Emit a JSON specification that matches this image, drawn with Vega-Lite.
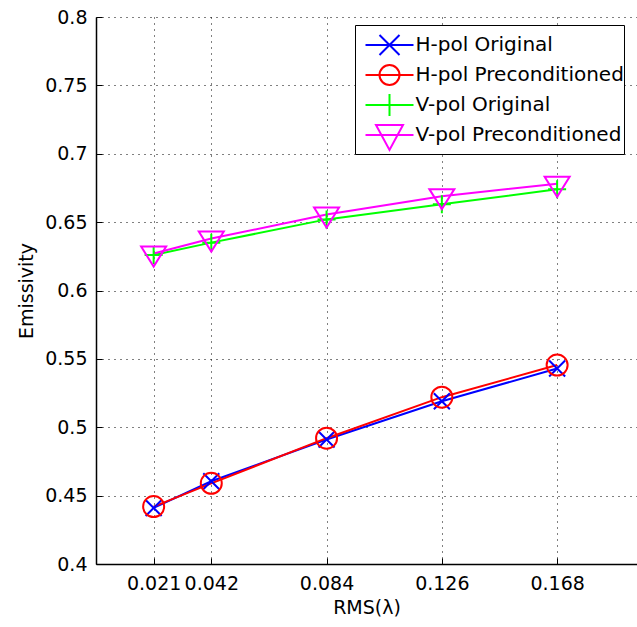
{
  "$schema": "https://vega.github.io/schema/vega-lite/v6.json",
  "autosize": {"type": "none"},
  "width": 541,
  "height": 547,
  "padding": {"left": 96, "top": 17, "right": 0, "bottom": 63},
  "background": "white",
  "data": {
    "values": [
      {"series": "H-pol Original", "rms": 0.021, "emissivity": 0.441},
      {"series": "H-pol Original", "rms": 0.042, "emissivity": 0.4605},
      {"series": "H-pol Original", "rms": 0.084, "emissivity": 0.491},
      {"series": "H-pol Original", "rms": 0.126, "emissivity": 0.519},
      {"series": "H-pol Original", "rms": 0.168, "emissivity": 0.543},
      {"series": "H-pol Preconditioned", "rms": 0.021, "emissivity": 0.442},
      {"series": "H-pol Preconditioned", "rms": 0.042, "emissivity": 0.459},
      {"series": "H-pol Preconditioned", "rms": 0.084, "emissivity": 0.492},
      {"series": "H-pol Preconditioned", "rms": 0.126, "emissivity": 0.522},
      {"series": "H-pol Preconditioned", "rms": 0.168, "emissivity": 0.5455},
      {"series": "V-pol Original", "rms": 0.021, "emissivity": 0.626},
      {"series": "V-pol Original", "rms": 0.042, "emissivity": 0.635},
      {"series": "V-pol Original", "rms": 0.084, "emissivity": 0.652},
      {"series": "V-pol Original", "rms": 0.126, "emissivity": 0.663},
      {"series": "V-pol Original", "rms": 0.168, "emissivity": 0.674},
      {"series": "V-pol Preconditioned", "rms": 0.021, "emissivity": 0.627},
      {"series": "V-pol Preconditioned", "rms": 0.042, "emissivity": 0.638},
      {"series": "V-pol Preconditioned", "rms": 0.084, "emissivity": 0.6555},
      {"series": "V-pol Preconditioned", "rms": 0.126, "emissivity": 0.669},
      {"series": "V-pol Preconditioned", "rms": 0.168, "emissivity": 0.678}
    ]
  },
  "encoding": {
    "x": {
      "field": "rms", "type": "quantitative",
      "scale": {"domain": [0, 0.1971], "nice": false, "zero": false},
      "axis": {
        "title": "RMS(λ)",
        "values": [0.021, 0.042, 0.084, 0.126, 0.168],
        "format": ".3f",
        "labelPadding": 16,
        "titlePadding": 5
      }
    },
    "y": {
      "field": "emissivity", "type": "quantitative",
      "scale": {"domain": [0.4, 0.8], "nice": false, "zero": false},
      "axis": {
        "title": "Emissivity",
        "values": [0.4, 0.45, 0.5, 0.55, 0.6, 0.65, 0.7, 0.75, 0.8],
        "format": ".2~f",
        "labelPadding": 15,
        "titlePadding": 8
      }
    }
  },
  "layer": [
    {
      "mark": {"type": "line", "strokeWidth": 2},
      "encoding": {
        "color": {
          "field": "series", "type": "nominal", "legend": null,
          "scale": {
            "domain": ["H-pol Original", "H-pol Preconditioned", "V-pol Original", "V-pol Preconditioned"],
            "range": ["#0000ff", "#ff0000", "#00ff00", "#ff00ff"]
          }
        },
        "detail": {"field": "series"}
      }
    },
    {
      "mark": {"type": "point", "filled": false, "size": 100, "strokeWidth": 2, "opacity": 1},
      "encoding": {
        "color": {"field": "series", "type": "nominal", "legend": null},
        "shape": {
          "field": "series", "type": "nominal", "legend": null,
          "scale": {
            "domain": ["H-pol Original", "H-pol Preconditioned", "V-pol Original", "V-pol Preconditioned"],
            "range": [
              "M-1.6,-1.6L1.6,1.6M-1.6,1.6L1.6,-1.6",
              "M2.1,0A2.1,2.1,0,1,1,-2.1,0A2.1,2.1,0,1,1,2.1,0Z",
              "M-1.8,0L1.8,0M0,-1.8L0,1.8",
              "M-2.5,-1.4L2.5,-1.4L0,2.6Z"
            ]
          }
        }
      }
    },
    {
      "mark": {"type": "point", "filled": false, "size": 100, "strokeWidth": 2, "opacity": 0},
      "encoding": {
        "color": {
          "field": "series", "type": "nominal",
          "legend": {
            "title": " ",
            "titleFontSize": 1,
            "titlePadding": 9,
            "orient": "none",
            "legendX": 259,
            "legendY": 8,
            "padding": 0,
            "rowPadding": -7,
            "symbolSize": 100,
            "symbolStrokeWidth": 2,
            "symbolOpacity": 1,
            "symbolOffset": 24.5,
            "labelOffset": 16,
            "labelFont": "DejaVu Sans",
            "labelFontSize": 20,
            "labelColor": "black",
            "labelLimit": 400,
            "strokeColor": "black",
            "fillColor": "white"
          }
        },
        "shape": {
          "field": "series", "type": "nominal",
          "scale": {
            "domain": ["H-pol Original", "H-pol Preconditioned", "V-pol Original", "V-pol Preconditioned"],
            "range": [
              "M-4.8,0L4.8,0M-2,-2L2,2M-2,2L2,-2M0,-2.8M0,3",
              "M-4.8,0L4.8,0M2,0A2,2,0,1,1,-2,0A2,2,0,1,1,2,0M0,-2.8M0,3",
              "M-4.8,0L4.8,0M0,-2.2L0,2.2M0,-2.8M0,3",
              "M-4.8,0L4.8,0M-2.7,-2L2.7,-2L0,3ZM0,-2.8M0,3"
            ]
          },
          "legend": {
            "title": " ",
            "titleFontSize": 1,
            "titlePadding": 9,
            "orient": "none",
            "legendX": 259,
            "legendY": 8,
            "padding": 0,
            "rowPadding": -7,
            "symbolSize": 100,
            "symbolStrokeWidth": 2,
            "symbolOpacity": 1,
            "symbolOffset": 24.5,
            "labelOffset": 16,
            "labelFont": "DejaVu Sans",
            "labelFontSize": 20,
            "labelColor": "black",
            "labelLimit": 400,
            "strokeColor": "black",
            "fillColor": "white"
          }
        }
      }
    }
  ],
  "resolve": {
    "scale": {"shape": "independent"},
    "legend": {"shape": "independent", "color": "independent"}
  },
  "config": {
    "font": "DejaVu Sans",
    "view": {"stroke": null},
    "axis": {
      "labelFont": "DejaVu Sans",
      "labelFontSize": 19,
      "labelColor": "black",
      "titleFont": "DejaVu Sans",
      "titleFontSize": 19,
      "titleFontWeight": "normal",
      "titleColor": "black",
      "domainColor": "black",
      "domainWidth": 1.5,
      "tickColor": "black",
      "tickWidth": 1,
      "tickSize": -6,
      "grid": true,
      "gridColor": "black",
      "gridDash": [1, 5],
      "gridWidth": 1,
      "gridOpacity": 1
    }
  }
}
